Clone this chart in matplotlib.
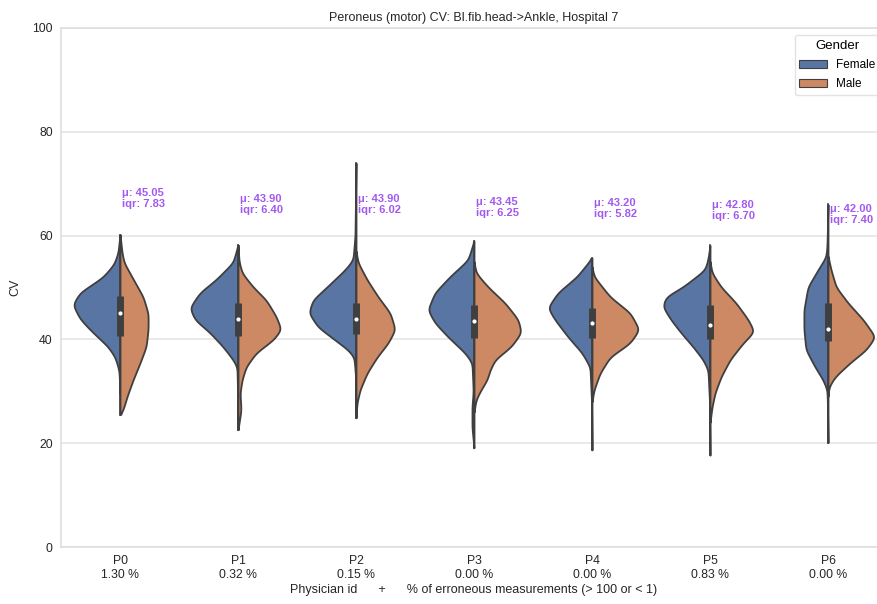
import numpy as np
import matplotlib.pyplot as plt
from matplotlib.patches import Patch

plt.rcParams['font.family'] = ['Liberation Sans', 'DejaVu Sans']

physicians = ['P0', 'P1', 'P2', 'P3', 'P4', 'P5', 'P6']
error_pct = [1.30, 0.32, 0.15, 0.00, 0.00, 0.83, 0.00]
medians = [45.05, 43.90, 43.90, 43.45, 43.20, 42.80, 42.00]
iqrs = [7.83, 6.40, 6.02, 6.25, 5.82, 6.70, 7.40]
q1 = [40.6, 40.6, 41.0, 40.3, 40.3, 40.0, 39.7]
q3 = [48.4, 47.0, 47.0, 46.6, 46.1, 46.7, 47.1]

# density profile of each half violin (cv, relative density)
female_cv = [
    [29.5, 34, 36.6, 38.6, 41.9, 44, 46.7, 49, 52, 54.5, 56.7, 60.2],
    [22.6, 30, 34.7, 36.1, 38.6, 41.3, 43.8, 46.1, 49, 51.5, 54.8, 58.2],
    [24.9, 33, 36.6, 38, 39.9, 42.4, 45.1, 47.6, 50.1, 53.4, 55.3, 60, 74],
    [19.1, 23, 25, 27, 30, 35.5, 37.4, 40.5, 43.2, 45.7, 49, 52.1, 55.3, 59],
    [18.7, 28, 34.7, 37.4, 40.5, 43.8, 46.1, 49, 52.1, 55.7],
    [17.7, 28, 34.1, 36.1, 38.6, 41.3, 43.8, 46.3, 48.2, 50.1, 53.4, 55.5, 58.1],
    [20.1, 27, 30.3, 32.2, 34.7, 38, 41.9, 45.7, 50.1, 53.4, 55.9, 58, 66],
]
female_dens = [
    [0, 1, 5, 12, 30, 40, 47, 40, 17, 6, 2, 0],
    [0, 0.5, 1, 5, 15, 28, 43, 48, 38, 22, 5, 0],
    [0, 0.5, 2, 8, 21, 38, 47, 43, 29, 11, 3, 1, 0],
    [0, 2, 2, 2, 0.8, 2, 9, 26, 39, 46, 39, 24, 6, 0],
    [0, 0.5, 2, 10, 24, 37, 44, 34, 15, 0],
    [0, 0.5, 2, 7, 17, 29, 39, 47, 44, 27, 5, 2, 0],
    [0, 0.5, 1, 5, 13, 22, 24, 24, 20, 10, 2, 1, 0],
]
male_cv = [
    [25.5, 26.4, 29, 32.2, 35.5, 38.6, 42, 45, 48.2, 52, 54.8, 56.7, 60.2],
    [22.6, 26.4, 29.7, 32.2, 34.7, 37.4, 39.9, 41.9, 44.4, 47.6, 50.1, 52.8, 55, 58.2],
    [24.9, 27.8, 30.3, 33.5, 36.6, 39.3, 41.9, 45.1, 48.2, 51.5, 54.8, 57],
    [26, 28.4, 30.3, 32.2, 34.1, 36.1, 38.6, 41.3, 43.8, 47, 50.1, 52.8, 55],
    [28, 30.3, 33.5, 36.6, 39.3, 41.9, 45.1, 48.2, 52.1, 54],
    [24, 27, 29.7, 32.8, 36.1, 39.3, 41.5, 43.8, 47, 50.1, 52.8, 55],
    [29, 30.9, 32.8, 35.5, 38, 40.5, 43.8, 47, 50.1, 53.4, 56],
]
male_dens = [
    [0, 3, 7, 13, 20, 26, 28, 28, 23, 12, 4, 2, 0],
    [0, 3, 2, 4, 8, 18, 35, 43, 38, 28, 15, 4, 1, 0],
    [0, 1, 4, 11, 21, 32, 39, 34, 22, 11, 2, 0],
    [0, 2, 7, 13, 16, 21, 37, 47, 44, 31, 14, 2, 0],
    [0, 2, 8, 18, 38, 47, 38, 18, 2, 0],
    [0, 2, 5, 11, 20, 33, 44, 38, 26, 11, 2, 0],
    [0, 1, 7, 22, 38, 47, 35, 20, 8, 3, 0],
]

female_color = '#5975a4'
male_color = '#cc8963'
edge = '#3f3f3f'
half_width = 0.4


def profile(cv, dens):
    y = np.arange(cv[0], cv[-1] + 0.05, 0.05)
    w = np.interp(y, cv, dens)
    k = np.arange(-40, 41) * 0.05
    kern = np.exp(-0.5 * (k / 0.6) ** 2)
    kern /= kern.sum()
    w = np.convolve(np.pad(w, 40, mode='constant'), kern, mode='same')[40:-40]
    w[0] = w[-1] = 0
    return y, w


fig = plt.figure(figsize=(8.77, 6.04), dpi=100)
ax = fig.add_axes([61 / 877, 57 / 604, 826 / 877, 519 / 604])

dmax = 47.0
for i in range(len(physicians)):
    y, w = profile(female_cv[i], female_dens[i])
    ax.fill_betweenx(y, i - w / dmax * half_width, i, facecolor=female_color,
                     edgecolor=edge, linewidth=1.3, zorder=2)
    y, w = profile(male_cv[i], male_dens[i])
    ax.fill_betweenx(y, i, i + w / dmax * half_width, facecolor=male_color,
                     edgecolor=edge, linewidth=1.3, zorder=2)
    lo = min(female_cv[i][0], male_cv[i][0])
    hi = max(female_cv[i][-1], male_cv[i][-1])
    ax.plot([i, i], [lo, hi], color=edge, lw=1.2, zorder=3)
    ax.plot([i, i], [q1[i], q3[i]], color=edge, lw=5, solid_capstyle='butt', zorder=4)
    ax.scatter([i], [medians[i]], s=4, color='white', zorder=5)
    ax.text(i + 0.02, medians[i] + 20, f'μ: {medians[i]:.2f}\niqr: {iqrs[i]:.2f}',
            color='#a259f0', fontsize=8, fontweight='bold', ha='left', va='bottom',
            linespacing=1.12)

ax.set_xlim(-0.5, len(physicians) - 0.5)
ax.set_ylim(0, 100)
ax.set_yticks([0, 20, 40, 60, 80, 100])
ax.set_xticks(range(len(physicians)))
ax.set_xticklabels([f'{p}\n{e:.2f} %' for p, e in zip(physicians, error_pct)])
ax.tick_params(axis='both', labelsize=8.8, colors='#262626', length=0, pad=6)
ax.grid(axis='y', color='#e3e3e3', lw=1.1, zorder=0)
ax.set_axisbelow(True)
for s in ax.spines.values():
    s.set_color('#dcdcdc')
    s.set_linewidth(1.1)

ax.set_title('Peroneus (motor) CV: Bl.fib.head->Ankle, Hospital 7', fontsize=9, color='#262626', pad=5)
ax.set_xlabel('Physician id      +      % of erroneous measurements (> 100 or < 1)',
              fontsize=9, color='#262626', labelpad=2)
ax.set_ylabel('CV', fontsize=9, color='#262626', labelpad=8)

handles = [Patch(facecolor=female_color, edgecolor=edge, lw=0.8, label='Female'),
           Patch(facecolor=male_color, edgecolor=edge, lw=0.8, label='Male')]
leg = ax.legend(handles=handles, title='Gender', loc='upper right', fontsize=8.5,
                title_fontsize=9.5, frameon=True, borderaxespad=0.6,
                handlelength=2.3, labelspacing=0.6)
leg.get_frame().set_edgecolor('#dcdcdc')

fig.savefig('out.png', dpi=100)
